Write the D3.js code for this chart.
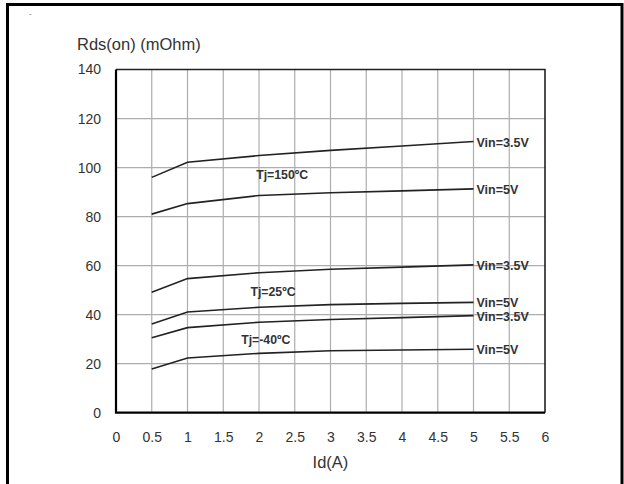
<!DOCTYPE html>
<html>
<head>
<meta charset="utf-8">
<script src="https://cdn.jsdelivr.net/npm/d3@7"></script>
<style>
  body { margin: 0; background: #fff; }
  svg { display: block; font-family: "Liberation Sans", Arial, sans-serif; }
</style>
</head>
<body>
<svg id="chart" width="624" height="484"></svg>
<script>
// Id (A) sample points along each curve
const idPoints = [0.5, 1, 2, 3, 4, 5];

// Rds(on) in mOhm
const hot35 = [96, 102.2, 104.9, 107, 108.8, 110.6];
const hot5 = [81, 85.3, 88.6, 89.7, 90.5, 91.3];
const room35 = [49.1, 54.7, 57.1, 58.5, 59.4, 60.3];
const room5 = [36.2, 41.1, 43.0, 44.1, 44.6, 45.0];
const cold35 = [30.6, 34.7, 36.9, 38.0, 38.8, 39.6];
const cold5 = [17.8, 22.3, 24.2, 25.3, 25.6, 25.9];

const curves = [
  { label: 'Vin=3.5V', values: hot35 },
  { label: 'Vin=5V', values: hot5 },
  { label: 'Vin=3.5V', values: room35 },
  { label: 'Vin=5V', values: room5 },
  { label: 'Vin=3.5V', values: cold35 },
  { label: 'Vin=5V', values: cold5 }
];

// temperature notes: placed at an Id value, sitting at an Rds value
const tempNotes = [
  { text: 'Tj=150ºC', id: 1.96, rds: 95.2 },
  { text: 'Tj=25ºC', id: 1.88, rds: 47.7 },
  { text: 'Tj=-40ºC', id: 1.75, rds: 28.1 }
];

const xTicks = [0, 0.5, 1, 1.5, 2, 2.5, 3, 3.5, 4, 4.5, 5, 5.5, 6];
const yTicks = [0, 20, 40, 60, 80, 100, 120, 140];

const svg = d3.select('#chart');

const x = d3.scaleLinear().domain([0, 6]).range([116, 545]);
const y = d3.scaleLinear().domain([0, 140]).range([412.7, 69.5]);

// outer frame (left, top, right)
svg.append('path')
  .attr('d', 'M7.5,484 V4.5 H622 V484')
  .attr('fill', 'none')
  .attr('stroke', '#000')
  .attr('stroke-width', 3);

svg.append('text')
  .attr('x', 29).attr('y', 19)
  .attr('font-size', 8)
  .attr('fill', '#777')
  .text('ˇ');

// grid
const grid = svg.append('g');
grid.selectAll('line.v')
  .data(xTicks.filter(d => d > 0 && d < 6))
  .enter().append('line')
  .attr('x1', d => x(d)).attr('x2', d => x(d))
  .attr('y1', y(140)).attr('y2', y(0))
  .attr('stroke', '#adadad').attr('stroke-width', 1.2);
grid.selectAll('line.h')
  .data(yTicks.filter(d => d > 0 && d < 140))
  .enter().append('line')
  .attr('x1', x(0)).attr('x2', x(6))
  .attr('y1', d => y(d)).attr('y2', d => y(d))
  .attr('stroke', '#adadad').attr('stroke-width', 1.2);

// axes labels via d3 axes, lines removed
const xAxis = svg.append('g')
  .attr('transform', `translate(0,${y(0)})`)
  .call(d3.axisBottom(x).tickValues(xTicks).tickSize(0).tickPadding(19).tickFormat(d3.format('~g')));
const yAxis = svg.append('g')
  .attr('transform', `translate(${x(0)},0)`)
  .call(d3.axisLeft(y).tickValues(yTicks).tickSize(0).tickPadding(15));
[xAxis, yAxis].forEach(a => {
  a.select('.domain').remove();
  a.selectAll('text')
    .attr('font-family', '"Liberation Sans", Arial, sans-serif')
    .attr('font-size', 14)
    .attr('fill', '#333');
});

// plot frame
svg.append('path')
  .attr('d', `M${x(0)},${y(140)} H${x(6)} V${y(0)}`)
  .attr('fill', 'none').attr('stroke', '#222').attr('stroke-width', 1.6);
svg.append('path')
  .attr('d', `M${x(0)},${y(140)} V${y(0)} H${x(6)}`)
  .attr('fill', 'none').attr('stroke', '#000').attr('stroke-width', 2.2);

// curves
const line = d3.line()
  .x((d, i) => x(idPoints[i]))
  .y(d => y(d));

svg.append('g').selectAll('path')
  .data(curves)
  .enter().append('path')
  .attr('d', d => line(d.values))
  .attr('fill', 'none')
  .attr('stroke', '#222')
  .attr('stroke-width', 1.6);

svg.append('g').selectAll('text')
  .data(curves)
  .enter().append('text')
  .attr('x', x(5) + 3)
  .attr('y', d => y(d.values[d.values.length - 1]) + 5)
  .attr('font-size', 12.5)
  .attr('font-weight', 'bold')
  .attr('fill', '#333')
  .text(d => d.label);

svg.append('g').selectAll('text')
  .data(tempNotes)
  .enter().append('text')
  .attr('x', d => x(d.id))
  .attr('y', d => y(d.rds))
  .attr('font-size', 12.3)
  .attr('font-weight', 'bold')
  .attr('fill', '#333')
  .text(d => d.text);

// titles
svg.append('text')
  .attr('x', 77).attr('y', 50)
  .attr('font-size', 16.5)
  .attr('fill', '#333')
  .text('Rds(on) (mOhm)');

svg.append('text')
  .attr('x', (x(0) + x(6)) / 2).attr('y', 468)
  .attr('text-anchor', 'middle')
  .attr('font-size', 16.5)
  .attr('fill', '#333')
  .text('Id(A)');
</script>
</body>
</html>
